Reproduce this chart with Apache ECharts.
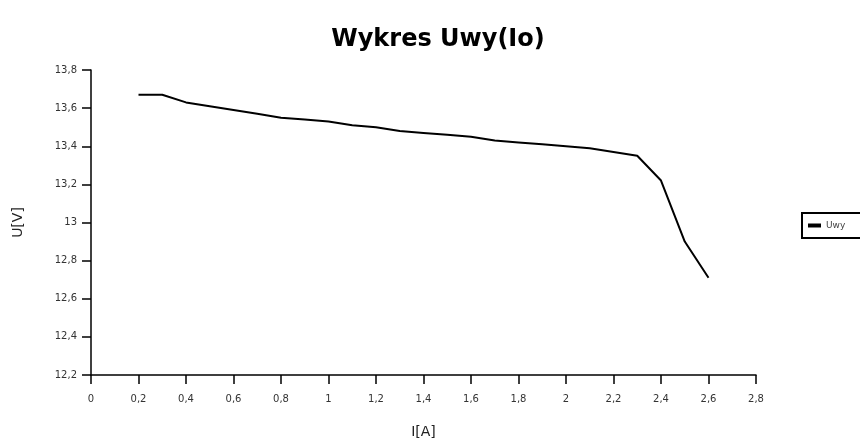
<!DOCTYPE html>
<html>
<head>
<meta charset="utf-8">
<script src="https://cdn.jsdelivr.net/npm/echarts@6/dist/echarts.min.js"></script>
<style>
  html, body { margin: 0; padding: 0; background: #fff; }
  #chart { width: 860px; height: 444px; }
</style>
</head>
<body>
<div id="chart"></div>
<script>
// current I[A] and output voltage U[V]
var currentA = [0.2, 0.3, 0.4, 0.5, 0.6, 0.7, 0.8, 0.9, 1.0, 1.1, 1.2, 1.3, 1.4, 1.5, 1.6, 1.7, 1.8, 1.9, 2.0, 2.1, 2.2, 2.3, 2.4, 2.5, 2.6];
var voltageV = [13.67, 13.67, 13.63, 13.61, 13.59, 13.57, 13.55, 13.54, 13.53, 13.51, 13.50, 13.48, 13.47, 13.46, 13.45, 13.43, 13.42, 13.41, 13.40, 13.39, 13.37, 13.35, 13.22, 12.90, 12.71];
var seriesName = 'Uwy';

var chart = echarts.init(document.getElementById('chart'));

function comma(v) {
    return String(+v.toFixed(1)).replace('.', ',');
}

var points = currentA.map(function (x, i) { return [x, voltageV[i]]; });

var option = {
    backgroundColor: '#fff',
    animation: false,
    textStyle: { fontFamily: 'DejaVu Sans, Arial, sans-serif' },
    title: {
        text: 'Wykres Uwy(Io)',
        left: 433,
        textAlign: 'center',
        top: 23,
        textStyle: { fontSize: 24, fontWeight: 'bold', color: '#000', fontFamily: 'DejaVu Sans' }
    },
    legend: {
        data: [seriesName],
        left: 802,
        top: 213,
        padding: [8, 40, 8, 6],
        borderColor: '#000',
        borderWidth: 2,
        itemWidth: 13,
        itemHeight: 4,
        itemGap: 4,
        icon: 'rect',
        textStyle: { fontSize: 9, color: '#444' }
    },
    grid: { left: 91, right: 104, top: 70, bottom: 68 },
    xAxis: {
        type: 'value',
        min: 0,
        max: 2.8,
        interval: 0.2,
        name: 'I[A]',
        nameLocation: 'middle',
        nameGap: 50,
        nameTextStyle: { fontSize: 14, color: '#222' },
        axisLine: { lineStyle: { color: '#000', width: 1.5 } },
        axisTick: { length: 9, lineStyle: { color: '#000', width: 1.5 } },
        axisLabel: { fontSize: 10, color: '#333', margin: 19, formatter: comma },
        splitLine: { show: false }
    },
    yAxis: {
        type: 'value',
        min: 12.2,
        max: 13.8,
        interval: 0.2,
        name: 'U[V]',
        nameLocation: 'middle',
        nameGap: 66,
        nameTextStyle: { fontSize: 14, color: '#222' },
        axisLine: { show: true, lineStyle: { color: '#000', width: 1.5 } },
        axisTick: { show: true, length: 9, lineStyle: { color: '#000', width: 1.5 } },
        axisLabel: { fontSize: 10, color: '#333', margin: 14, formatter: comma },
        splitLine: { show: false }
    },
    series: [{
        name: seriesName,
        type: 'line',
        data: points,
        showSymbol: false,
        symbol: 'none',
        itemStyle: { color: '#000' },
        lineStyle: { color: '#000', width: 2 }
    }]
};

chart.setOption(option);
</script>
</body>
</html>
